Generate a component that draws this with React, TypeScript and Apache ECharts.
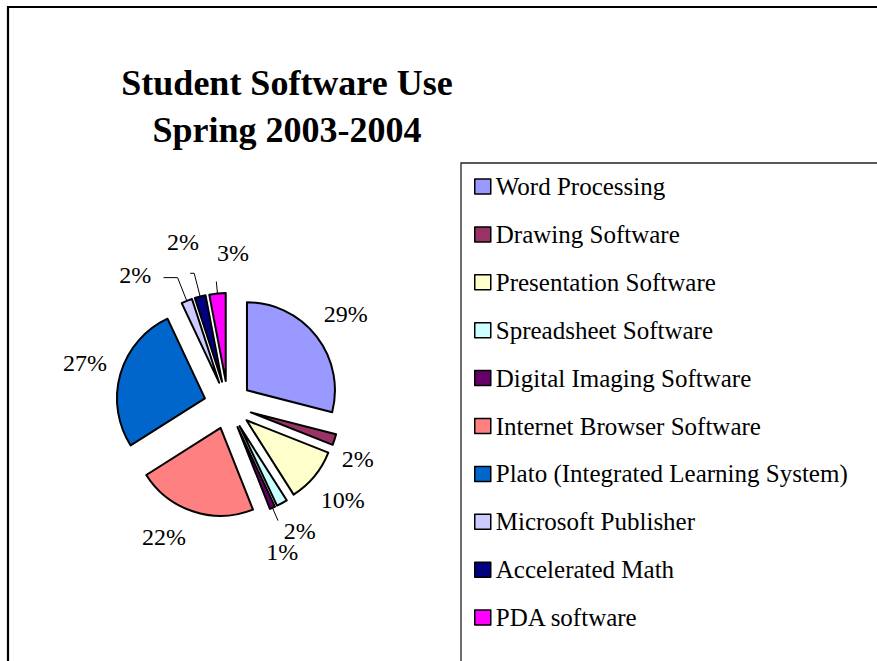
import React, { useEffect, useRef } from "react";
import * as echarts from "echarts";

const NAMES = [
  "Word Processing",
  "Drawing Software",
  "Presentation Software",
  "Spreadsheet Software",
  "Digital Imaging Software",
  "Internet Browser Software",
  "Plato (Integrated Learning System)",
  "Microsoft Publisher",
  "Accelerated Math",
  "PDA software",
];
const VALUES = [29, 2, 10, 2, 1, 22, 27, 2, 2, 3];
const COLORS = [
  "#9999FF",
  "#993366",
  "#FFFFCC",
  "#CCFFFF",
  "#660066",
  "#FF8080",
  "#0066CC",
  "#CCCCFF",
  "#000080",
  "#FF00FF",
];
const TITLE_LINES = ["Student Software Use", "Spring 2003-2004"];

// styling: which slices carry a leader line, and how long
const LEADER: Record<number, [number, number]> = {
  4: [14, 0],
  7: [25, 14],
  8: [24, 4],
  9: [12, 0],
};
// styling: small nudges for crowded labels
const NUDGE: Record<number, [number, number]> = {
  1: [-12, 8],
  3: [0, -5],
  4: [-5, 10],
  5: [-18, -10],
  7: [-38, 9],
  8: [-8, -19],
  9: [19, -4],
};

const FONT = "'Liberation Serif', 'Times New Roman', Times, serif";

export default function App() {
  const ref = useRef<HTMLDivElement>(null);
  useEffect(() => {
    if (!ref.current) return;
    const chart = echarts.init(ref.current, null, { renderer: "svg" });
    const center = [228, 405];
    const option: any = {
      animation: false,
      backgroundColor: "#fff",
      graphic: [
        {
          type: "rect",
          shape: { x: 8, y: 7, width: 1000, height: 1000 },
          style: { fill: "none", stroke: "#000", lineWidth: 2.2 },
          silent: true,
          z: 0,
        },
        {
          type: "rect",
          shape: { x: 461, y: 163, width: 600, height: 600 },
          style: { fill: "#fff", stroke: "#222", lineWidth: 1.3 },
          silent: true,
          z: 0,
        },
        {
          type: "text",
          x: 287,
          y: 59,
          style: {
            text: TITLE_LINES.join("\n"),
            font: `bold 36px ${FONT}`,
            fontFamily: FONT,
            fontSize: 36,
            fontWeight: "bold",
            lineHeight: 47,
            align: "center",
            verticalAlign: "top",
            fill: "#000",
          },
          silent: true,
          z: 10,
        },
      ],
      legend: {
        orient: "vertical",
        left: 469,
        top: 169,
        itemWidth: 16,
        itemHeight: 15,
        itemGap: 22.9,
        icon: "rect",
        selectedMode: false,
        data: NAMES,
        itemStyle: { borderColor: "#000", borderWidth: 1.5 },
        textStyle: {
          fontFamily: FONT,
          fontSize: 25,
          lineHeight: 24,
          color: "#000",
        },
        z: 5,
      },
      series: [
        {
          type: "pie",
          center,
          radius: 88,
          startAngle: 90,
          clockwise: true,
          selectedMode: "multiple",
          selectedOffset: 24,
          avoidLabelOverlap: false,
          silent: true,
          itemStyle: { borderColor: "#000", borderWidth: 2 },
          select: { itemStyle: { borderColor: "#000", borderWidth: 2 } },
          emphasis: { disabled: true },
          label: {
            show: false,
            position: "outside",
            formatter: () => "",
            distanceToLabelLine: 0,
          },
          labelLine: {
            show: false,
            lineStyle: { color: "#000", width: 1 },
          },
          labelLayout: { hideOverlap: false },
          data: VALUES.map((v, i) => {
            const ld = LEADER[i];
            return {
              name: NAMES[i],
              value: v,
              selected: true,
              itemStyle: { color: COLORS[i] },
              label: { show: !!ld },
              labelLine: ld
                ? { show: true, length: ld[0], length2: ld[1] }
                : { show: false },
            };
          }),
          z: 2,
        },
        {
          type: "pie",
          center,
          radius: [0, 292],
          startAngle: 90,
          clockwise: true,
          silent: true,
          legendHoverLink: false,
          avoidLabelOverlap: false,
          labelLayout: { hideOverlap: false },
          emphasis: { disabled: true },
          itemStyle: { color: "rgba(0,0,0,0)", borderWidth: 0 },
          label: {
            show: true,
            position: "inside",
            formatter: "{c}%",
            fontFamily: FONT,
            fontSize: 24,
            color: "#000",
          },
          labelLine: { show: false },
          data: VALUES.map((v, i) => ({
            name: NAMES[i],
            value: v,
            label: NUDGE[i] ? { offset: NUDGE[i] } : {},
          })),
          z: 3,
        },
      ],
    };
    chart.setOption(option);
    return () => chart.dispose();
  }, []);
  return (
    <div
      ref={ref}
      style={{ position: "fixed", left: 0, top: 0, width: 877, height: 661 }}
    />
  );
}
